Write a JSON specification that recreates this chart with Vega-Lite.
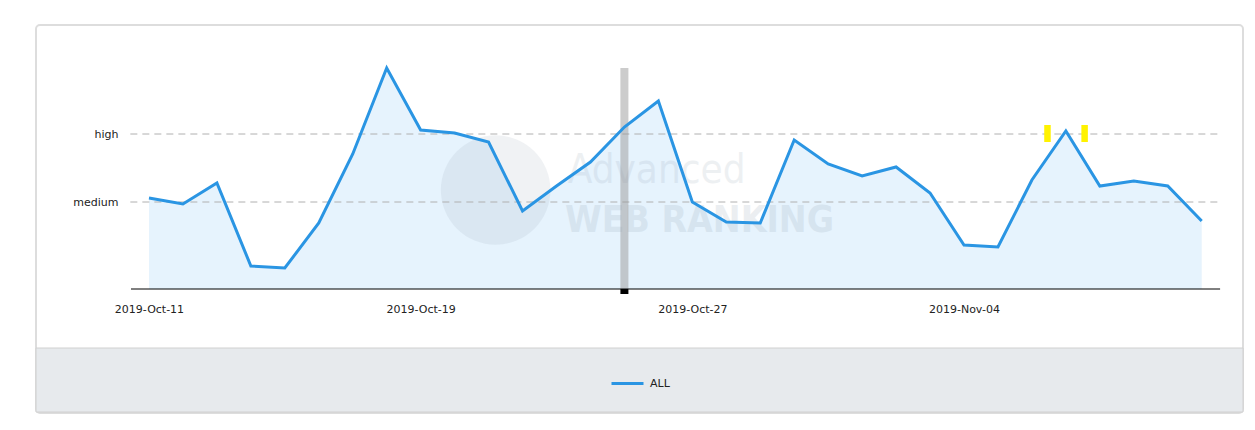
{
  "$schema": "https://vega.github.io/schema/vega-lite/v6.json",
  "width": 1207,
  "height": 388,
  "padding": {"left": 36, "top": 25, "right": 12, "bottom": 17},
  "autosize": {"type": "none"},
  "background": "white",
  "config": {
    "font": "DejaVu Sans",
    "view": {"stroke": "#dddddd", "strokeWidth": 2, "cornerRadius": 4, "fill": "white"}
  },
  "layer": [
    {
      "data": {"values": [{}]},
      "mark": {"type": "rect", "fill": "#e7eaed", "stroke": "#d0d0d0", "strokeWidth": 1},
      "encoding": {
        "y": {"datum": -59, "type": "quantitative", "scale": {"domain": [-124, 264], "nice": false, "zero": false}},
        "y2": {"datum": -123}
      }
    },
    {
      "data": {"name": "rank"},
      "mark": {"type": "area", "fill": "#e6f3fd", "interpolate": "linear"},
      "encoding": {
        "x": {
          "field": "date", "type": "temporal",
          "scale": {
            "domain": [
              {"year": 2019, "month": 10, "date": 7, "hours": 16, "minutes": 9},
              {"year": 2019, "month": 11, "date": 12, "hours": 5, "minutes": 11}
            ]
          },
          "axis": {
            "orient": "bottom", "offset": -124, "title": null,
            "domain": false, "ticks": false, "grid": false,
            "values": [
              {"year": 2019, "month": 10, "date": 11},
              {"year": 2019, "month": 10, "date": 19},
              {"year": 2019, "month": 10, "date": 27},
              {"year": 2019, "month": 11, "date": 4}
            ],
            "format": "%Y-%b-%d", "labelFontSize": 11, "labelColor": "#222",
            "labelPadding": 14, "labelFlush": false
          }
        },
        "y": {
          "field": "value", "type": "quantitative",
          "axis": {
            "orient": "left", "offset": -95, "title": null,
            "domain": false, "ticks": false, "grid": false,
            "values": [87, 155],
            "labelExpr": "datum.value == 155 ? 'high' : 'medium'",
            "labelFontSize": 11, "labelColor": "#222", "labelPadding": 13
          }
        },
        "y2": {"datum": 0}
      }
    },
    {
      "data": {"values": [{}]},
      "mark": {"type": "circle", "size": 12000, "color": "#8899aa", "opacity": 0.13},
      "encoding": {
        "x": {"datum": {"year": 2019, "month": 10, "date": 21, "hours": 5}, "type": "temporal"},
        "y": {"datum": 99, "type": "quantitative"}
      }
    },
    {
      "data": {"values": [{"t": "Advanced"}]},
      "mark": {"type": "text", "align": "left", "baseline": "alphabetic", "font": "DejaVu Sans Condensed, Liberation Sans, sans-serif", "color": "#8899aa", "opacity": 0.14, "fontSize": 40},
      "encoding": {
        "x": {"datum": {"year": 2019, "month": 10, "date": 23, "hours": 8}, "type": "temporal"},
        "y": {"datum": 106, "type": "quantitative"},
        "text": {"field": "t"}
      }
    },
    {
      "data": {"values": [{"t": "WEB RANKING"}]},
      "mark": {"type": "text", "align": "left", "baseline": "alphabetic", "font": "DejaVu Sans Condensed, Liberation Sans, sans-serif", "fontWeight": "bold", "color": "#8899aa", "opacity": 0.16, "fontSize": 37},
      "encoding": {
        "x": {"datum": {"year": 2019, "month": 10, "date": 23, "hours": 6}, "type": "temporal"},
        "y": {"datum": 57, "type": "quantitative"},
        "text": {"field": "t"}
      }
    },
    {
      "data": {"values": [{"level": "high", "v": 155}, {"level": "medium", "v": 87}]},
      "mark": {"type": "rule", "stroke": "#b0b0b0", "strokeWidth": 1, "strokeDash": [7, 5]},
      "encoding": {
        "y": {"field": "v", "type": "quantitative"},
        "x": {"datum": {"year": 2019, "month": 10, "date": 10, "hours": 10, "minutes": 50}, "type": "temporal"},
        "x2": {"datum": {"year": 2019, "month": 11, "date": 11, "hours": 13}}
      }
    },
    {
      "data": {"values": [{"date": "2019-10-25T00:00:00"}]},
      "mark": {"type": "rule", "stroke": "#999999", "opacity": 0.5, "strokeWidth": 8},
      "encoding": {
        "x": {"field": "date", "type": "temporal"},
        "y": {"datum": 0, "type": "quantitative"},
        "y2": {"datum": 221}
      }
    },
    {
      "data": {"values": [{}]},
      "mark": {"type": "rule", "stroke": "black", "strokeWidth": 1},
      "encoding": {
        "y": {"datum": 0, "type": "quantitative"},
        "x": {"datum": {"year": 2019, "month": 10, "date": 10, "hours": 11, "minutes": 17}, "type": "temporal"},
        "x2": {"datum": {"year": 2019, "month": 11, "date": 11, "hours": 13}}
      }
    },
    {
      "data": {"name": "rank"},
      "mark": {"type": "line", "strokeWidth": 3, "interpolate": "linear"},
      "encoding": {
        "x": {"field": "date", "type": "temporal"},
        "y": {"field": "value", "type": "quantitative"},
        "color": {
          "field": "series", "type": "nominal",
          "scale": {"range": ["#2a95e3"]},
          "legend": {
            "title": null, "orient": "none", "legendX": 574, "legendY": 341,
            "symbolType": "stroke", "symbolSize": 1024, "symbolStrokeWidth": 3,
            "labelFontSize": 11, "labelColor": "#222", "labelOffset": 5
          }
        }
      }
    },
    {
      "data": {"values": [{"date": "2019-10-25T00:00:00"}]},
      "mark": {"type": "rule", "stroke": "black", "strokeWidth": 8},
      "encoding": {
        "x": {"field": "date", "type": "temporal"},
        "y": {"datum": 0, "type": "quantitative"},
        "y2": {"datum": -5}
      }
    },
    {
      "data": {"values": [{"date": "2019-11-06T11:00:00"}, {"date": "2019-11-07T13:15:00"}]},
      "mark": {"type": "rule", "stroke": "#fff200", "strokeWidth": 6.5},
      "encoding": {
        "x": {"field": "date", "type": "temporal"},
        "y": {"datum": 147, "type": "quantitative"},
        "y2": {"datum": 164}
      }
    }
  ],
  "datasets": {
    "rank": [
      {"date": "2019-10-11T00:00:00", "value": 91, "series": "ALL"},
      {"date": "2019-10-12T00:00:00", "value": 85, "series": "ALL"},
      {"date": "2019-10-13T00:00:00", "value": 106, "series": "ALL"},
      {"date": "2019-10-14T00:00:00", "value": 23, "series": "ALL"},
      {"date": "2019-10-15T00:00:00", "value": 21, "series": "ALL"},
      {"date": "2019-10-16T00:00:00", "value": 66, "series": "ALL"},
      {"date": "2019-10-17T00:00:00", "value": 135, "series": "ALL"},
      {"date": "2019-10-18T00:00:00", "value": 221, "series": "ALL"},
      {"date": "2019-10-19T00:00:00", "value": 159, "series": "ALL"},
      {"date": "2019-10-20T00:00:00", "value": 156, "series": "ALL"},
      {"date": "2019-10-21T00:00:00", "value": 147, "series": "ALL"},
      {"date": "2019-10-22T00:00:00", "value": 78, "series": "ALL"},
      {"date": "2019-10-23T00:00:00", "value": 103, "series": "ALL"},
      {"date": "2019-10-24T00:00:00", "value": 127, "series": "ALL"},
      {"date": "2019-10-25T00:00:00", "value": 162, "series": "ALL"},
      {"date": "2019-10-26T00:00:00", "value": 188, "series": "ALL"},
      {"date": "2019-10-27T00:00:00", "value": 87, "series": "ALL"},
      {"date": "2019-10-28T00:00:00", "value": 67, "series": "ALL"},
      {"date": "2019-10-29T00:00:00", "value": 66, "series": "ALL"},
      {"date": "2019-10-30T00:00:00", "value": 149, "series": "ALL"},
      {"date": "2019-10-31T00:00:00", "value": 125, "series": "ALL"},
      {"date": "2019-11-01T00:00:00", "value": 113, "series": "ALL"},
      {"date": "2019-11-02T00:00:00", "value": 122, "series": "ALL"},
      {"date": "2019-11-03T00:00:00", "value": 96, "series": "ALL"},
      {"date": "2019-11-04T00:00:00", "value": 44, "series": "ALL"},
      {"date": "2019-11-05T00:00:00", "value": 42, "series": "ALL"},
      {"date": "2019-11-06T00:00:00", "value": 109, "series": "ALL"},
      {"date": "2019-11-07T00:00:00", "value": 158, "series": "ALL"},
      {"date": "2019-11-08T00:00:00", "value": 103, "series": "ALL"},
      {"date": "2019-11-09T00:00:00", "value": 108, "series": "ALL"},
      {"date": "2019-11-10T00:00:00", "value": 103, "series": "ALL"},
      {"date": "2019-11-11T00:00:00", "value": 68, "series": "ALL"}
    ]
  }
}
